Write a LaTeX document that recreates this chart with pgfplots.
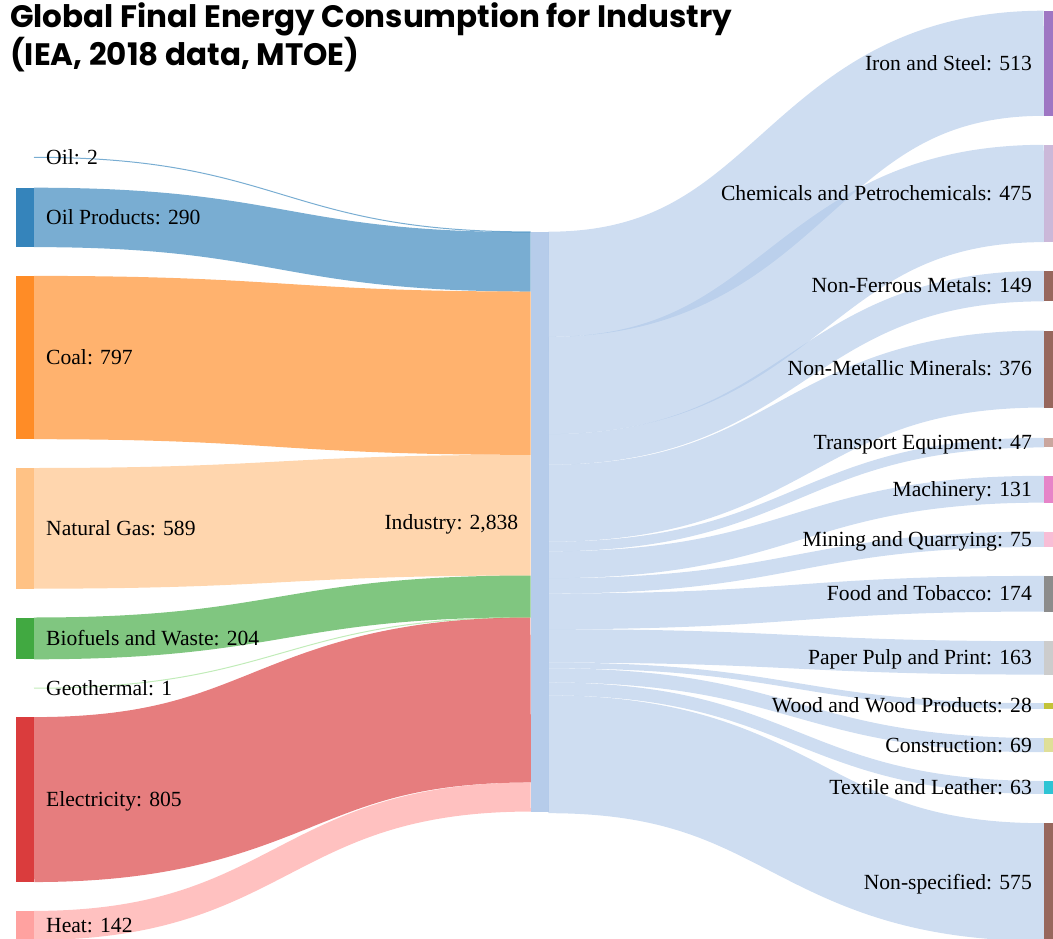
\documentclass[border=0pt]{standalone}
\usepackage{pgfplots}
\pgfplotsset{compat=1.18}
\usepackage{pgfplotstable}
\usepackage{fontspec}
\setmainfont{Liberation Serif}
\newfontfamily\titlefont{Poppins}

\definecolor{cOil}{HTML}{1F77B4}
\definecolor{cInd}{HTML}{AEC7E8}
\definecolor{cCoal}{HTML}{FF7F0E}
\definecolor{cGas}{HTML}{FFBB78}
\definecolor{cBio}{HTML}{2CA02C}
\definecolor{cGeo}{HTML}{98DF8A}
\definecolor{cElec}{HTML}{D62728}
\definecolor{cHeat}{HTML}{FF9896}
\definecolor{cIron}{HTML}{9467BD}
\definecolor{cChem}{HTML}{C5B0D5}
\definecolor{cBrown}{HTML}{8C564B}
\definecolor{cTrans}{HTML}{C49C94}
\definecolor{cMach}{HTML}{E377C2}
\definecolor{cMining}{HTML}{F7B6D2}
\definecolor{cFood}{HTML}{7F7F7F}
\definecolor{cPaper}{HTML}{C7C7C7}
\definecolor{cWood}{HTML}{BCBD22}
\definecolor{cConstr}{HTML}{DBDB8D}
\definecolor{cText}{HTML}{17BECF}

\newcommand\lbl{\fontsize{21.6}{26}\selectfont}

% sources: label, value (MTOE), top of node (px)
\pgfplotstableread[col sep=comma]{
label,value,top,col
Oil,2,157.1,cOil
Oil Products,290,187.7,cOil
Coal,797,275.9,cCoal
Natural Gas,589,468.0,cGas
Biofuels and Waste,204,617.5,cBio
Geothermal,1,688.1,cGeo
Electricity,805,717.1,cElec
Heat,142,910.9,cHeat
}\leftnodes

% targets
\pgfplotstableread[col sep=comma]{
label,value,top,col
Iron and Steel,513,10.7,cIron
Chemicals and Petrochemicals,475,144.8,cChem
Non-Ferrous Metals,149,270.8,cBrown
Non-Metallic Minerals,376,330.5,cBrown
Transport Equipment,47,437.8,cTrans
Machinery,131,475.8,cMach
Mining and Quarrying,75,531.6,cMining
Food and Tobacco,174,575.9,cFood
Paper Pulp and Print,163,641.2,cPaper
Wood and Wood Products,28,703.2,cWood
Construction,69,738.1,cConstr
Textile and Leather,63,781.0,cText
Non-specified,575,823.2,cBrown
}\rightnodes

\def\kk{0.2049}   % px per MTOE
\def\indtop{231.7}
\def\dy{6.9}

% precompute geometry
\newcommand\prep[3]{% #1 table, #2 prefix, #3 last index
  \gdef\cum{231.7}%
  \foreach \i in {0,...,#3}{%
    \pgfplotstablegetelem{\i}{value}\of#1\let\myv\pgfplotsretval
    \pgfplotstablegetelem{\i}{top}\of#1\let\myt\pgfplotsretval
    \pgfmathsetmacro\myh{\myv*\kk}%
    \pgfmathsetmacro\myb{\myt+\myh}%
    \pgfmathsetmacro\ys{\myt+\myh/2}%
    \pgfmathsetmacro\yl{\myt+\myh/2+\dy}%
    \pgfmathsetmacro\yi{\cum+\myh/2}%
    \pgfmathsetmacro\nc{\cum+\myh}%
    \global\let\cum\nc
    \pgfmathsetmacro\myw{max(1,\myh)}%
    \pgfmathsetmacro\myo{\myh<1 ? 0 : 0.9}%
    \expandafter\xdef\csname #2T\i\endcsname{\myt}%
    \expandafter\xdef\csname #2B\i\endcsname{\myb}%
    \expandafter\xdef\csname #2S\i\endcsname{\ys}%
    \expandafter\xdef\csname #2Y\i\endcsname{\yl}%
    \expandafter\xdef\csname #2I\i\endcsname{\yi}%
    \expandafter\xdef\csname #2W\i\endcsname{\myw}%
    \expandafter\xdef\csname #2O\i\endcsname{\myo}%
    \expandafter\xdef\csname #2V\i\endcsname{\myv}%
    \pgfplotstablegetelem{\i}{label}\of#1%
    \expandafter\xdef\csname #2L\i\endcsname{\pgfplotsretval}%
    \pgfplotstablegetelem{\i}{col}\of#1%
    \expandafter\xdef\csname #2C\i\endcsname{\pgfplotsretval}%
  }%
}
\prep{\leftnodes}{L}{7}
\let\indbottom\cum
\prep{\rightnodes}{R}{12}

\begin{document}
\begin{tikzpicture}
\begin{axis}[
  scale only axis, width=1053pt, height=939pt,
  xmin=0, xmax=1053, ymin=0, ymax=939, y dir=reverse,
  hide axis, clip=true]

% links into Industry
\pgfplotsinvokeforeach{0,...,7}{%
  \edef\tmp{\noexpand\draw[draw=\csname LC#1\endcsname, draw opacity=0.6, line width=\csname LW#1\endcsname pt]
    (axis cs:34,\csname LS#1\endcsname) .. controls (axis cs:282.35,\csname LS#1\endcsname) and (axis cs:282.35,\csname LI#1\endcsname) .. (axis cs:530.7,\csname LI#1\endcsname);}\tmp
}
% links out of Industry
\pgfplotsinvokeforeach{0,...,12}{%
  \edef\tmp{\noexpand\draw[draw=cInd, draw opacity=0.6, line width=\csname RW#1\endcsname pt]
    (axis cs:548.7,\csname RI#1\endcsname) .. controls (axis cs:796.35,\csname RI#1\endcsname) and (axis cs:796.35,\csname RS#1\endcsname) .. (axis cs:1044,\csname RS#1\endcsname);}\tmp
}
% nodes
\pgfplotsinvokeforeach{0,...,7}{%
  \edef\tmp{\noexpand\fill[\csname LC#1\endcsname, fill opacity=\csname LO#1\endcsname] (axis cs:16,\csname LT#1\endcsname) rectangle (axis cs:34,\csname LB#1\endcsname);}\tmp
}
\pgfplotsinvokeforeach{0,...,12}{%
  \edef\tmp{\noexpand\fill[\csname RC#1\endcsname, fill opacity=\csname RO#1\endcsname] (axis cs:1044,\csname RT#1\endcsname) rectangle (axis cs:1053,\csname RB#1\endcsname);}\tmp
}
\edef\tmp{\noexpand\fill[cInd, fill opacity=0.9] (axis cs:530.7,\indtop) rectangle (axis cs:548.7,\indbottom);}\tmp

% labels
\pgfplotsinvokeforeach{0,...,7}{%
  \edef\tmp{\noexpand\node[anchor=base west, inner sep=0pt, font=\noexpand\lbl] at (axis cs:46,\csname LY#1\endcsname) {\csname LL#1\endcsname: \csname LV#1\endcsname};}\tmp
}
\pgfplotsinvokeforeach{0,...,12}{%
  \edef\tmp{\noexpand\node[anchor=base east, inner sep=0pt, font=\noexpand\lbl] at (axis cs:1032,\csname RY#1\endcsname) {\csname RL#1\endcsname: \csname RV#1\endcsname};}\tmp
}
\node[anchor=base east, inner sep=0pt, font=\lbl] at (axis cs:518.5,529.4) {Industry: 2,838};

% title
\node[anchor=base west, inner sep=0pt, font=\titlefont\bfseries\fontsize{31}{36}\selectfont] at (axis cs:10,27.8) {Global Final Energy Consumption for Industry};
\node[anchor=base west, inner sep=0pt, font=\titlefont\bfseries\fontsize{31}{36}\selectfont] at (axis cs:10,65.3) {(IEA, 2018 data, MTOE)};
\end{axis}
\pgfresetboundingbox
\useasboundingbox (current axis.south west) rectangle (current axis.north east);
\end{tikzpicture}
\end{document}
